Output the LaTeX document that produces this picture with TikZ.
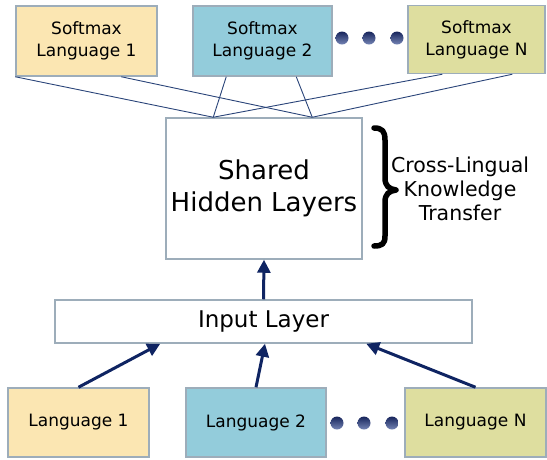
\documentclass[tikz,border=0pt]{standalone}
\usepackage{fontspec}
\setmainfont{DejaVu Sans}
\usetikzlibrary{arrows.meta,shadings}
\definecolor{bord}{HTML}{9DADBA}
\definecolor{cA}{HTML}{FBE6B2}
\definecolor{cB}{HTML}{93CCDB}
\definecolor{cC}{HTML}{DEDE9F}
\definecolor{navy}{HTML}{0F2462}
\definecolor{lnav}{HTML}{2A4479}
\definecolor{dtop}{HTML}{17255C}
\definecolor{dbot}{HTML}{7585B5}
\tikzset{
  box/.style={draw=bord, line width=1.5pt, rectangle, inner sep=0pt, align=center},
  smalltxt/.style={font=\fontsize{17}{22}\selectfont},
  arr/.style={draw=navy, line width=3pt, -{Triangle[length=13pt,width=13pt]}},
  thinline/.style={draw=lnav, line width=0.9pt},
  dotb/.style={shading=axis, top color=dtop, bottom color=dbot, draw=none},
}
\begin{document}
\begin{tikzpicture}[x=1pt,y=-1pt]
\useasboundingbox (0,0) rectangle (547,459);
% top softmax boxes
\node[box, smalltxt, fill=cA, minimum width=141pt, minimum height=70pt] (sA) at (86.5,41) {Softmax\\Language 1};
\node[box, smalltxt, fill=cB, minimum width=139pt, minimum height=70pt] (sB) at (262.5,41) {Softmax\\Language 2};
\node[box, smalltxt, fill=cC, minimum width=137pt, minimum height=68pt] (sC) at (476.5,39.5) {Softmax\\Language N};
% shared
\node[box, fill=white, minimum width=196pt, minimum height=141pt, font=\fontsize{26}{32}\selectfont] (sh) at (264,188.5) {Shared\\Hidden Layers};
% input
\node[box, fill=white, minimum width=417pt, minimum height=43pt, font=\fontsize{23}{26}\selectfont] (in) at (263.5,321.5) {Input Layer};
% bottom languages
\node[box, smalltxt, fill=cA, minimum width=141pt, minimum height=69pt] (bA) at (78.5,422.5) {Language 1};
\node[box, smalltxt, fill=cB, minimum width=140pt, minimum height=69pt] (bB) at (256,422.5) {Language 2};
\node[box, smalltxt, fill=cC, minimum width=141pt, minimum height=69pt] (bC) at (475.5,422.5) {Language N};
% convergence points
\coordinate (cl) at ([xshift=48pt]sh.north west);
\coordinate (cr) at ([xshift=147pt]sh.north west);
\draw[thinline] (sA.south west) -- (cl);
\draw[thinline] ([xshift=106pt]sA.south west) -- (cr);
\draw[thinline] ([xshift=34pt]sB.south west) -- (cl);
\draw[thinline] ([xshift=104pt]sB.south west) -- (cr);
\draw[thinline] ([xshift=35pt]sC.south west) -- (cl);
\draw[thinline] ([xshift=105pt]sC.south west) -- (cr);
% arrows
\draw[arr] (in.north) -- (sh.south);
\draw[arr] (bA.north) -- ([xshift=106pt]in.south west);
\draw[arr] (bB.north) -- ([xshift=1.5pt]in.south);
\draw[arr] (bC.north) -- ([xshift=312pt]in.south west);
% dots
\foreach \x in {342,369,397} \shade[dotb] (\x,38) circle (6.5pt);
\foreach \x in {337,364,392} \shade[dotb] (\x,423) circle (6.5pt);
% brace
\draw[line width=5.5pt, line cap=round, line join=round]
  (374,128) .. controls (382,128) and (385,131) .. (385,140)
  -- (385,178) .. controls (385,186) and (389,189) .. (396,190)
  .. controls (389,191) and (385,194) .. (385,202)
  -- (385,236) .. controls (385,244) and (382,246) .. (374,246);
\node[align=center, font=\fontsize{20.5}{24}\selectfont] (kt) at (460,189) {Cross-Lingual\\Knowledge\\Transfer};
\end{tikzpicture}
\end{document}
